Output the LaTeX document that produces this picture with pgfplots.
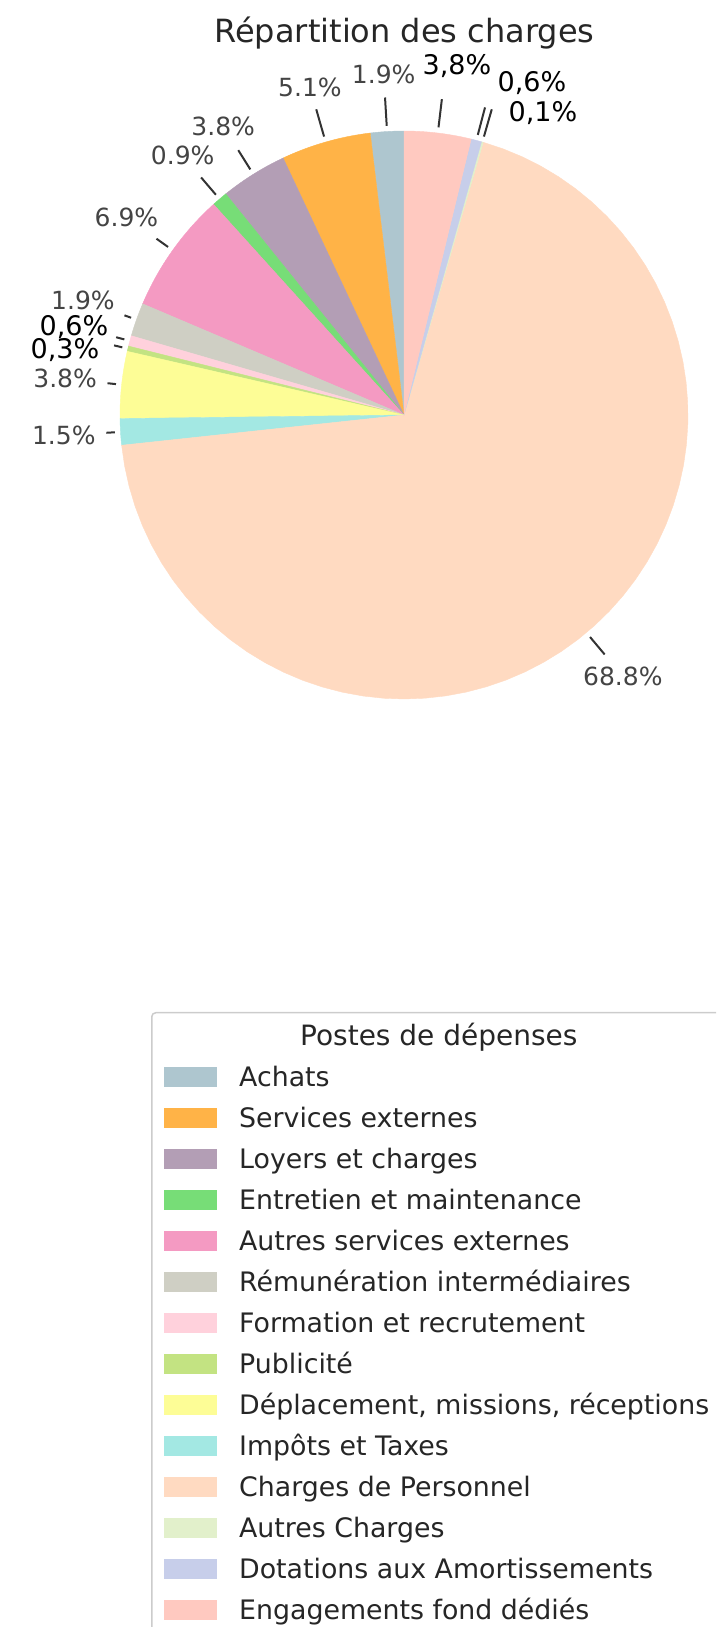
\documentclass[border=0pt]{standalone}
\usepackage{pgfplots}
\pgfplotsset{compat=1.18}
\usepackage{fontspec}
\setmainfont{DejaVu Sans}
\definecolor{cA}{HTML}{AEC6CF}
\definecolor{cB}{HTML}{FFB347}
\definecolor{cC}{HTML}{B39EB5}
\definecolor{cD}{HTML}{77DD77}
\definecolor{cE}{HTML}{F49AC2}
\definecolor{cF}{HTML}{CFCFC4}
\definecolor{cG}{HTML}{FFD1DC}
\definecolor{cH}{HTML}{C3E382}
\definecolor{cI}{HTML}{FDFD96}
\definecolor{cJ}{HTML}{A3E8E3}
\definecolor{cK}{HTML}{FFDAC1}
\definecolor{cL}{HTML}{E2F0CB}
\definecolor{cM}{HTML}{C7CEEA}
\definecolor{cN}{HTML}{FFC9C0}
\definecolor{labgray}{HTML}{444444}
\definecolor{leadc}{HTML}{333333}
% #1 start (%), #2 value (%), #3 colour, #4 legend text
\newcommand\slice[4]{%
  \pgfmathsetmacro\sa{90+3.6*#1}%
  \pgfmathsetmacro\sb{90+3.6*(#1+#2)}%
  \edef\temp{\noexpand\addplot[fill=#3, draw=#3, line width=0.4pt, domain=\sa:\sb, samples=60] ({cos(x)},{sin(x)}) -- (axis cs:0,0) -- cycle;}%
  \temp
  \addlegendentry{#4}}
% leader line: #1 start, #2 value, #3 outer radius
\newcommand\lead[3]{%
  \draw[leadc, line width=2pt] (axis cs:{1.02*cos(90+3.6*(#1+#2/2))},{1.02*sin(90+3.6*(#1+#2/2))}) -- (axis cs:{#3*cos(90+3.6*(#1+#2/2))},{#3*sin(90+3.6*(#1+#2/2))});}
% percentage label at r=1.2
\newcommand\plabel[3]{%
  \node[font=\fontsize{25}{29}\selectfont, text=labgray, inner sep=0pt] at (axis cs:{1.2*cos(90+3.6*(#1+#2/2))},{1.2*sin(90+3.6*(#1+#2/2))}) {#3};}
\begin{document}
\begin{tikzpicture}
\useasboundingbox (0,0) rectangle (716pt,1627pt);
\clip (0,0) rectangle (716pt,1627pt);
\begin{axis}[
  at={(0pt,0pt)}, anchor=south west,
  scale only axis, width=716pt, height=1627pt,
  xmin=-1.422535, xmax=1.098592, ymin=-4.267606, ymax=1.461268,
  hide axis, clip=false,
  legend cell align=left,
  legend image code/.code={\fill[#1, sharp corners] (0pt,-9.5pt) rectangle (52pt,9.5pt);},
  legend style={at={(0.21089,0.37800)}, anchor=north west,
    draw=black!20, line width=1.5pt, rounded corners=4pt, fill=white,
    inner xsep=12pt, inner ysep=14pt,
    font=\fontsize{26.8}{31}\selectfont, text=black!85,
    column sep=23pt, row sep=21.6pt,
    nodes={inner sep=0pt, text height=19pt, text depth=0pt, anchor=west}},
]
\addlegendimage{empty legend}
\addlegendentry{\makebox[520pt][l]{\hspace*{61pt}\fontsize{28}{32}\selectfont Postes de dépenses}}
\slice{0}{1.9}{cA}{Achats}
\slice{1.9}{5.1}{cB}{Services externes}
\slice{7.0}{3.8}{cC}{Loyers et charges}
\slice{10.8}{0.9}{cD}{Entretien et maintenance}
\slice{11.7}{6.9}{cE}{Autres services externes}
\slice{18.6}{1.9}{cF}{Rémunération intermédiaires}
\slice{20.5}{0.6}{cG}{Formation et recrutement}
\slice{21.1}{0.3}{cH}{Publicité}
\slice{21.4}{3.8}{cI}{Déplacement, missions, réceptions}
\slice{25.2}{1.5}{cJ}{Impôts et Taxes}
\slice{26.7}{68.8}{cK}{Charges de Personnel}
\slice{95.5}{0.1}{cL}{Autres Charges}
\slice{95.6}{0.6}{cM}{Dotations aux Amortissements}
\slice{96.2}{3.8}{cN}{Engagements fond dédiés}
% leader lines
\lead{0}{1.9}{1.12}
\lead{1.9}{5.1}{1.12}
\lead{7.0}{3.8}{1.10}
\lead{10.8}{0.9}{1.10}
\lead{11.7}{6.9}{1.07}
\lead{18.6}{1.9}{1.045}
\lead{20.5}{0.6}{1.05}
\lead{21.1}{0.3}{1.05}
\lead{21.4}{3.8}{1.05}
\lead{25.2}{1.5}{1.05}
\lead{26.7}{68.8}{1.10}
\lead{95.5}{0.1}{1.12}
\lead{95.6}{0.6}{1.12}
\lead{96.2}{3.8}{1.12}
% percentage labels
\plabel{0}{1.9}{1.9\%}
\plabel{1.9}{5.1}{5.1\%}
\plabel{7.0}{3.8}{3.8\%}
\plabel{10.8}{0.9}{0.9\%}
\plabel{11.7}{6.9}{6.9\%}
\plabel{18.6}{1.9}{1.9\%}
\plabel{21.4}{3.8}{3.8\%}
\plabel{25.2}{1.5}{1.5\%}
\plabel{26.7}{68.8}{68.8\%}
\node[font=\fontsize{27}{31}\selectfont, anchor=base, inner sep=0pt] at (axis cs:0.1866,1.1972) {3,8\%};
\node[font=\fontsize{27}{31}\selectfont, anchor=base, inner sep=0pt] at (axis cs:0.4507,1.1408) {0,6\%};
\node[font=\fontsize{27}{31}\selectfont, anchor=base, inner sep=0pt] at (axis cs:0.4894,1.0317) {0,1\%};
\node[font=\fontsize{27}{31}\selectfont, anchor=base, inner sep=0pt] at (axis cs:-1.1620,0.2782) {0,6\%};
\node[font=\fontsize{27}{31}\selectfont, anchor=base, inner sep=0pt] at (axis cs:-1.1937,0.1972) {0,3\%};
% title
\node[font=\fontsize{32}{37}\selectfont, text=black!85, anchor=base, inner sep=0pt] at (axis cs:0.0018,1.3099) {Répartition des charges};
\end{axis}
\end{tikzpicture}
\end{document}
